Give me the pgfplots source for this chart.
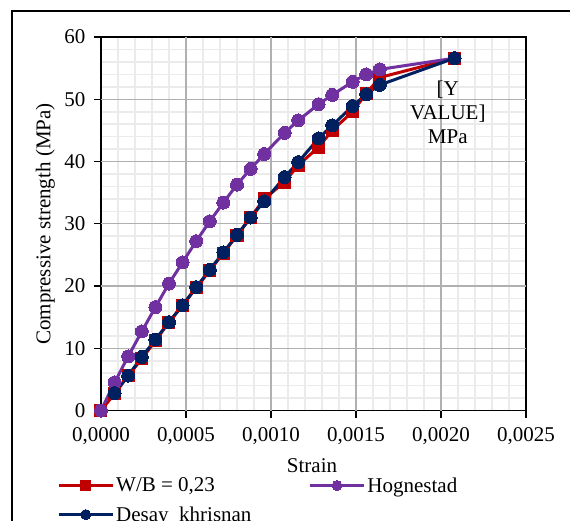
\documentclass[border=0pt]{standalone}
\usepackage{fontspec}
\setmainfont{Liberation Serif}
\usepackage{pgfplots}
\pgfplotsset{compat=1.18}

\definecolor{wbred}{HTML}{C00000}
\definecolor{hogpurple}{HTML}{7030A0}
\definecolor{desnavy}{HTML}{002060}
\definecolor{majgrid}{HTML}{B0B0B0}
\definecolor{mingrid}{HTML}{EBEBEB}

\newcommand{\chartfont}{\fontsize{21}{24}\selectfont}

\begin{document}
\begin{tikzpicture}[x=1pt,y=1pt]
\begin{axis}[
    at={(0pt,0pt)}, anchor=south west,
    scale only axis,
    width=425pt, height=373.5pt,
    xmin=0, xmax=0.0025,
    ymin=0, ymax=60,
    xtick={0,0.0005,0.001,0.0015,0.002,0.0025},
    ytick={0,10,20,30,40,50,60},
    minor tick num=4,
    scaled x ticks=false,
    x tick label style={/pgf/number format/fixed, /pgf/number format/fixed zerofill,
        /pgf/number format/precision=4, /pgf/number format/use comma, yshift=-6pt},
    /pgf/number format/assume math mode=true,
    ticklabel style={font=\chartfont},
    y tick label style={xshift=-5pt},
    tick pos=left,
    tick align=outside,
    major tick length=7pt,
    minor tick length=0pt,
    major tick style={black, line width=1.3pt},
    grid=minor,
    minor grid style={mingrid, line width=1.6pt},
    % major grid lines drawn last, on top of the minor ones
    extra x ticks={0.0005,0.001,0.0015,0.002},
    extra y ticks={10,20,30,40,50},
    extra x tick labels={}, extra y tick labels={},
    extra tick style={grid=major, major tick length=0pt,
        major grid style={majgrid, line width=1.3pt}},
    axis line style={black, line width=1.7pt},
    xlabel={Strain},
    ylabel={Compressive strength (MPa)},
    label style={font=\chartfont},
    xlabel style={at={(axis description cs:0.4965,-0.1486)}, anchor=center},
    ylabel style={at={(axis description cs:-0.131,0.4993)}, anchor=center},
    legend columns=2,
    legend cell align=left,
    legend image code/.code={\draw[#1, mark size=5pt, mark repeat=2, mark phase=2]
        plot coordinates {(0pt,0pt) (27pt,0pt) (54pt,0pt)};},
    legend style={at={(axis description cs:-0.1106,-0.168)}, anchor=north west,
        draw=none, fill=none, font=\chartfont, row sep=9pt,
        /tikz/every even column/.append style={column sep=55pt}},
]
% W/B = 0,23
\addplot[wbred, line width=3pt, line join=round, mark=square*, mark size=6pt,
    mark options={fill=wbred, draw=wbred, line width=0pt}]
coordinates {
(0, 0) (0.00008, 2.7) (0.00016, 5.6) (0.00024, 8.3) (0.00032, 11.2)
(0.0004, 14.2) (0.00048, 16.9) (0.00056, 19.7) (0.00064, 22.5) (0.00072, 25.3)
(0.0008, 28.1) (0.00088, 31.0) (0.00096, 34.0) (0.00108, 36.7) (0.00116, 39.4)
(0.00128, 42.3) (0.00136, 45.0) (0.00148, 48.0) (0.00156, 50.9) (0.00164, 53.5)
(0.00208, 56.6)
};
\addlegendentry{W/B = 0,23}
% Hognestad
\addplot[hogpurple, line width=3pt, line join=round, mark=*, mark size=6.5pt,
    mark options={fill=hogpurple, draw=hogpurple, line width=0pt}]
coordinates {
(0, 0) (0.00008, 4.5) (0.00016, 8.7) (0.00024, 12.7) (0.00032, 16.6)
(0.0004, 20.4) (0.00048, 23.8) (0.00056, 27.2) (0.00064, 30.4) (0.00072, 33.4)
(0.0008, 36.3) (0.00088, 38.8) (0.00096, 41.2) (0.00108, 44.6) (0.00116, 46.6)
(0.00128, 49.2) (0.00136, 50.7) (0.00148, 52.8) (0.00156, 54.0) (0.00164, 54.8)
(0.00208, 56.6)
};
\addlegendentry{Hognestad}
% Desay khrisnan
\addplot[desnavy, line width=3pt, line join=round, mark=*, mark size=6.5pt,
    mark options={fill=desnavy, draw=desnavy, line width=0pt}]
coordinates {
(0.00008, 2.8) (0.00016, 5.6) (0.00024, 8.6) (0.00032, 11.4)
(0.0004, 14.2) (0.00048, 16.9) (0.00056, 19.8) (0.00064, 22.6) (0.00072, 25.4)
(0.0008, 28.2) (0.00088, 31.0) (0.00096, 33.6) (0.00108, 37.5) (0.00116, 39.9)
(0.00128, 43.7) (0.00136, 45.8) (0.00148, 48.9) (0.00156, 50.8) (0.00164, 52.3)
(0.00208, 56.6)
};
\addlegendentry{Desay\ \ khrisnan}

\node[font=\chartfont, align=center, anchor=center] at (axis cs:0.00204,47.95)
    {[Y\\VALUE]\\MPa};
\end{axis}
% outer frame (continues past the right and bottom edges)
\draw[black, line width=1.3pt] (-89,-200) -- (-89,399.5) -- (600,399.5);
\pgfresetboundingbox
\path[use as bounding box] (-101,-109.5) rectangle (469,410.5);
\end{tikzpicture}
\end{document}
